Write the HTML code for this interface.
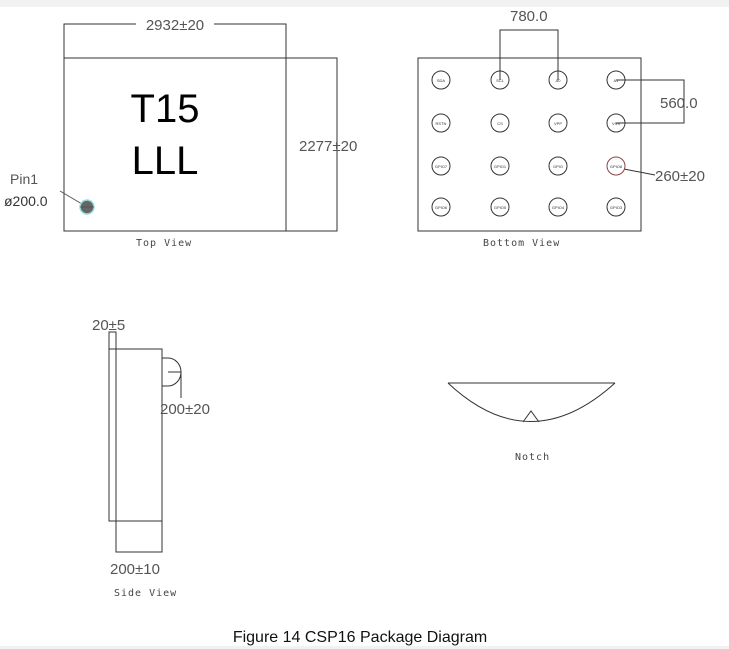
<!DOCTYPE html>
<html><head><meta charset="utf-8"><style>
html,body{margin:0;padding:0;background:#fff;width:729px;height:649px;overflow:hidden}
svg{display:block}
</style></head><body>
<svg width="729" height="649" xmlns="http://www.w3.org/2000/svg" font-family="Liberation Sans, sans-serif">
<rect x="0" y="0" width="729" height="7" fill="#f2f2f2"/>
<rect x="0" y="646" width="729" height="3" fill="#f2f2f2"/>
<g fill="none" stroke="#333" stroke-width="1">
<rect x="64" y="58" width="222" height="173"/>
<polyline points="64,58 64,24 286,24 286,58"/>
<polyline points="286,58 337,58 337,231 286,231"/>
<line x1="60" y1="191" x2="82" y2="204" stroke="#555"/>
<rect x="418" y="58" width="223" height="173"/>
<polyline points="500,80 500,30 558,30 558,80"/>
<polyline points="616,80 684,80 684,123 616,123"/>
<line x1="624" y1="169" x2="655" y2="175"/>
<rect x="109" y="332" width="7" height="189"/>
<rect x="109" y="349" width="53" height="172"/>
<rect x="116" y="521" width="46" height="31"/>
<path d="M162,358 L168,358 A13,14 0 0 1 181,372 L181,398"/>
<path d="M181,372 A13,14 0 0 1 168,386 L162,386"/>
<line x1="168" y1="372" x2="181" y2="372"/>
<line x1="448" y1="383" x2="615" y2="383"/>
<path d="M448,383 Q530,460 615,383"/>
<polyline points="523,422 531,411 539,422"/>
</g>
<circle cx="87" cy="207" r="7" fill="#666" stroke="#9dd" stroke-width="1.5"/>
<line x1="80" y1="207" x2="94" y2="207" stroke="#444" stroke-width="0.6"/>
<g fill="#555" font-size="15">
<rect x="136" y="16" width="78" height="14" fill="#fff"/>
<text x="175" y="30" text-anchor="middle">2932±20</text>
<text x="299" y="151">2277±20</text>
<text x="10" y="184" font-size="14">Pin1</text>
<text x="4" y="206" font-size="14" fill="#333">ø200.0</text>
<text x="510" y="21">780.0</text>
<text x="660" y="108">560.0</text>
<text x="655" y="181">260±20</text>
<text x="92" y="330">20±5</text>
<text x="160" y="414">200±20</text>
<text x="110" y="574">200±10</text>
</g>
<g fill="#444" font-size="10" font-family="DejaVu Sans Mono, monospace" letter-spacing="1">
<text x="136" y="246">Top View</text>
<text x="483" y="246">Bottom View</text>
<text x="114" y="596">Side View</text>
<text x="515" y="460">Notch</text>
</g>
<text x="165" y="122" font-size="40" text-anchor="middle" fill="#000">T15</text>
<text x="165" y="174" font-size="40" text-anchor="middle" fill="#000">LLL</text>
<g fill="none" stroke="#333" stroke-width="1">
<circle cx="441" cy="80" r="9"/><circle cx="500" cy="80" r="9"/><circle cx="558" cy="80" r="9"/><circle cx="616" cy="80" r="9"/>
<circle cx="441" cy="123" r="9"/><circle cx="500" cy="123" r="9"/><circle cx="558" cy="123" r="9"/><circle cx="616" cy="123" r="9"/>
<circle cx="441" cy="166" r="9"/><circle cx="500" cy="166" r="9"/><circle cx="558" cy="166" r="9"/><circle cx="616" cy="166" r="9" stroke="#844"/>
<circle cx="441" cy="207" r="9"/><circle cx="500" cy="207" r="9"/><circle cx="558" cy="207" r="9"/><circle cx="616" cy="207" r="9"/>
</g>
<g fill="#333" font-size="4" text-anchor="middle">
<text x="441" y="82">SDA</text><text x="500" y="82">SCL</text><text x="558" y="82">A0</text><text x="616" y="82">A1</text>
<text x="441" y="125">RSTN</text><text x="500" y="125">CS</text><text x="558" y="125">VPP</text><text x="616" y="125">VSS</text>
<text x="441" y="168">GPIO7</text><text x="500" y="168">GPIO1</text><text x="558" y="168">GPIO</text><text x="616" y="168">GPIO8</text>
<text x="441" y="209">GPIO6</text><text x="500" y="209">GPIO5</text><text x="558" y="209">GPIO4</text><text x="616" y="209">GPIO3</text>
</g>
<text x="360" y="642" font-size="16" text-anchor="middle" fill="#111">Figure 14 CSP16 Package Diagram</text>
</svg>
</body></html>
